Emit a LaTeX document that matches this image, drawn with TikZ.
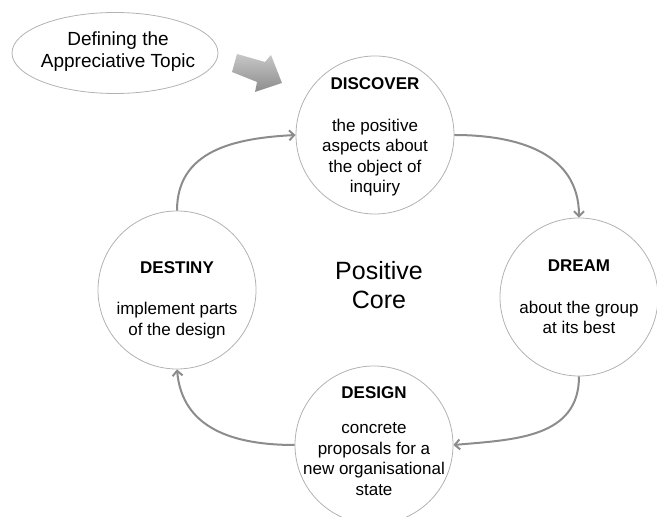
\documentclass[tikz,border=0pt]{standalone}
\usepackage{fontspec}
\setmainfont{Liberation Sans}
\usetikzlibrary{shapes.geometric, arrows.meta}

\begin{document}
\begin{tikzpicture}[x = 1pt, y = 1pt,
	phase/.style = {circle, draw = black!30, line width = 0.8pt,
		minimum size = 158pt, inner sep = 0pt},
	phasetext/.style = {align = center, font = \fontsize{17}{20.5}\selectfont},
	flow/.style = {draw = black!45, line width = 2pt,
		-{Straight Barb[length = 5pt, width = 10pt]}}]
\useasboundingbox (0,0) rectangle (657,517);

% topic and the big arrow
\node[ellipse, draw = black!30, line width = 0.8pt,
	minimum width = 206pt,
	minimum height = 81pt] (topic) at (115,464) {};
\node[align = center, font = \fontsize{19}{22}\selectfont] (topic text) at ([xshift = 3pt, yshift = 1pt]topic.center) {Defining the\\Appreciative Topic};
\shade[top color = black!22, bottom color = black!45]
	(237,463) -- (265,455) -- (271,462) -- (282,434) -- (255,425) -- (257,435) -- (232,445) -- cycle;

% the four phases
\node[phase] (discover) at (375,382) {};
\node[phase] (dream) at (579,220) {};
\node[phase] (design) at (374,72) {};
\node[phase] (destiny) at (177,227) {};

\node[phasetext, yshift = -2pt] (discover text) at (discover) {\textbf{DISCOVER}\\[21pt]the positive\\aspects about\\the object of\\inquiry};
\node[phasetext] (dream text) at (dream) {\textbf{DREAM}\\[21pt]about the group\\at its best};
\node[phasetext, yshift = 4pt] (design text) at (design) {\textbf{DESIGN}\\[15pt]concrete\\proposals for a\\new organisational\\state};
\node[phasetext, yshift = -10pt] (destiny text) at (destiny) {\textbf{DESTINY}\\[21pt]implement parts\\of the design};

\node[align = center, font = \fontsize{25}{29}\selectfont] (core) at (379,232) {Positive\\Core};

% cycle
\draw[flow] (destiny.north) to[out = 90, in = 183, looseness = 1.1] (discover.west);
\draw[flow] (discover.east) to[out = 0, in = 90, looseness = 1.1] (dream.north);
\draw[flow] (dream.south) to[out = 270, in = 5, looseness = 1.1] (design.east);
\draw[flow] (design.west) to[out = 180, in = 275, looseness = 1.1] (destiny.south);
\end{tikzpicture}
\end{document}
